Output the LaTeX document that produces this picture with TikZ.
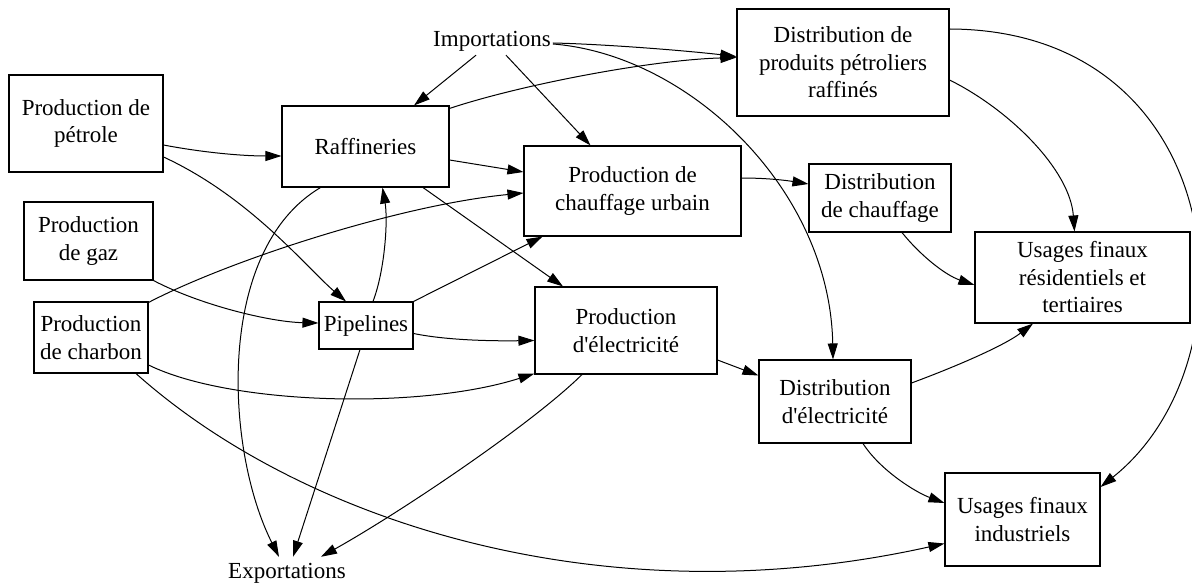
\documentclass[tikz,border=0pt]{standalone}
\usepackage{fontspec}
\setmainfont{Liberation Serif}
\usetikzlibrary{arrows.meta,calc}
\begin{document}
\begin{tikzpicture}[x=1pt,y=-1pt,
  txt/.style={font=\fontsize{23}{27.5}\selectfont},
  box/.style={txt, draw, line width=1.1pt, inner sep=0pt, align=center},
  lbl/.style={txt, inner sep=2pt, text height=15pt, text depth=5pt},
  arr/.style={line width=1pt, -{Triangle[length=16pt,width=10pt]}}]
\useasboundingbox (0,0) rectangle (1192,585);
% nodes
\node[box, minimum width=154pt, minimum height=97pt] (pet) at (86,123.5) {Production de\\pétrole};
\node[box, minimum width=129pt, minimum height=78pt] (gaz) at (88.5,241) {Production\\de gaz};
\node[box, minimum width=114pt, minimum height=71pt] (charb) at (91,337.5) {Production\\de charbon};
\node[box, minimum width=167pt, minimum height=81pt] (raf) at (365.5,146.5) {Raffineries};
\node[box, minimum width=94pt, minimum height=47pt] (pipe) at (366,325.5) {Pipelines};
\node[box, minimum width=217pt, minimum height=90pt] (chauf) at (632.5,191) {Production de\\chauffage urbain};
\node[box, minimum width=182pt, minimum height=87pt] (elec) at (626,330.5) {Production\\d\textquotesingle électricité};
\node[box, minimum width=212pt, minimum height=107pt] (dpp) at (843,62.5) {Distribution de\\produits pétroliers\\raffinés};
\node[box, minimum width=142pt, minimum height=68pt] (dch) at (880,198) {Distribution\\de chauffage};
\node[box, minimum width=215pt, minimum height=91pt] (ures) at (1082.5,277.5) {Usages finaux\\résidentiels et\\tertiaires};
\node[box, minimum width=152pt, minimum height=83pt] (delec) at (835,401.5) {Distribution\\d\textquotesingle électricité};
\node[box, minimum width=155pt, minimum height=93pt] (uind) at (1022.5,519.5) {Usages finaux\\industriels};
\node[lbl] (imp) at (492,42) {Importations};
\node[lbl] (exp) at (287,573) {Exportations};
% edges
\draw[arr] ($(imp.south)+(-16,1)$) -- ($(raf.north)+(48.5,0)$);
\draw[arr] ($(imp.south)+(14,1)$) -- ($(chauf.north)+(-42,0)$);
\draw[arr] ($(imp.east)+(0,1)$) .. controls (600,44) and (680,50) .. ($(dpp.west)+(0,-6)$);
\draw[arr] ($(imp.east)+(0,2)$) .. controls (690,55) and (830,190) .. ($(delec.north)+(-2,0)$);
\draw[arr] ($(raf.north east)+(0,3)$) .. controls (520,85) and (650,60) .. ($(dpp.west)+(0,-5)$);
\draw[arr] ($(pet.east)+(0,21.5)$) .. controls (200,152) and (240,156) .. ($(raf.west)+(0,9.5)$);
\draw[arr] ($(pet.east)+(0,33.5)$) .. controls (250,197) and (306,267) .. ($(pipe.north)+(-20,0)$);
\draw[arr] ($(raf.east)+(0,13.5)$) -- ($(chauf.west)+(0,-19)$);
\draw[arr] ($(raf.south)+(57.5,0)$) -- ($(elec.north)+(-63,0)$);
\draw[arr] ($(raf.south)+(-45,0)$) .. controls (215,250) and (225,450) .. ($(exp.north)+(-8,-4)$);
\draw[arr] ($(pipe.north)+(7,0)$) .. controls (385,270) and (388,220) .. ($(raf.south)+(17,0)$);
\draw[arr] ($(charb.north east)+(0,1)$) .. controls (230,260) and (400,205) .. ($(chauf.west)+(0,2)$);
\draw[arr] (gaz.south east) .. controls (200,305) and (270,322) .. ($(pipe.west)+(0,-2.5)$);
\draw[arr] (pipe.north east) -- ($(chauf.south)+(-90,0)$);
\draw[arr] ($(pipe.east)+(0,8)$) .. controls (450,341) and (500,341) .. ($(elec.west)+(0,10)$);
\draw[arr] ($(pipe.south)+(-6,0)$) -- ($(exp.north)+(6,-4)$);
\draw[arr] ($(charb.east)+(0,27.5)$) .. controls (230,405) and (420,410) .. ($(elec.south west)+(0,-1)$);
\draw[arr] ($(charb.south)+(45,0)$) .. controls (300,520) and (600,620) .. ($(uind.west)+(0,24)$);
\draw[arr] ($(elec.south)+(-44,0)$) .. controls (532,424) and (401,512) .. ($(exp.north)+(34,-4)$);
\draw[arr] ($(elec.east)+(0,29.5)$) -- ($(delec.west)+(0,-26)$);
\draw[arr] ($(chauf.east)+(0,-13)$) .. controls (770,178) and (790,181) .. ($(dch.west)+(0,-14)$);
\draw[arr] ($(dpp.east)+(0,17.5)$) .. controls (1010,110) and (1070,170) .. ($(ures.north)+(-8,0)$);
\draw[arr] ($(dpp.east)+(0,-33.5)$) .. controls (1230,30) and (1260,360) .. ($(uind.east)+(0,-32.5)$);
\draw[arr] ($(dch.south)+(22,0)$) .. controls (920,255) and (945,275) .. ($(ures.west)+(0,7.5)$);
\draw[arr] ($(delec.east)+(0,-18.5)$) .. controls (960,365) and (1005,345) .. ($(ures.south)+(-49.5,0)$);
\draw[arr] ($(delec.south)+(28,0)$) .. controls (880,470) and (915,492) .. ($(uind.west)+(0,-16.5)$);
\end{tikzpicture}
\end{document}
